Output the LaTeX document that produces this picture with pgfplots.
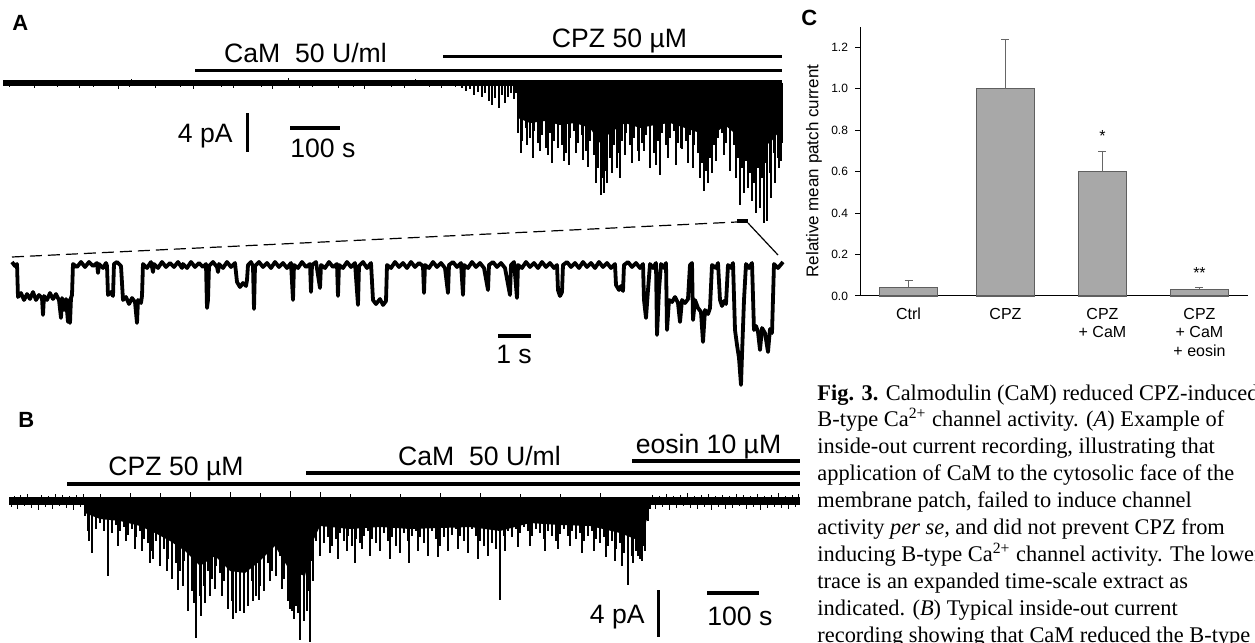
\documentclass[border=0pt]{standalone}
\usepackage{fontspec}
\setmainfont{Liberation Serif}
\newfontfamily\arial{Liberation Sans}
\usepackage{pgfplots}
\pgfplotsset{compat=1.18}
\definecolor{barfill}{RGB}{168,168,168}
\definecolor{bardraw}{RGB}{95,95,95}
\newcommand{\lab}{\arial\fontsize{13.3}{15}\selectfont}
\newcommand{\captfont}{\fontsize{11.2}{13}\selectfont}
\begin{document}
\begin{tikzpicture}
\path[use as bounding box] (0,0) rectangle (627.5pt,321.5pt);

% page frame in pixel units (y downwards): annotations, lower trace of A, captions
\begin{axis}[at={(0pt,0pt)}, anchor=south west, width=627.5pt, height=321.5pt,
  scale only axis, xmin=0, xmax=1255, ymin=0, ymax=643, y dir=reverse,
  hide axis, clip=false]
% solution bars, panel A
\addplot[black, line width=1.6pt] coordinates {(195,70.7) (782,70.7)};
\addplot[black, line width=1.6pt] coordinates {(443,56.7) (782,56.7)};
% scale bars A
\addplot[black, line width=1.5pt] coordinates {(247,113) (247,152)};
\addplot[black, line width=2pt] coordinates {(290,128) (340,128)};
% expansion marker
\addplot[black, line width=0.6pt, dash pattern=on 6pt off 3pt] coordinates {(12,257) (737,222)};
\addplot[black, line width=2pt] coordinates {(737,221) (748,221)};
\addplot[black, line width=0.6pt] coordinates {(748,223) (778,255)};
% expanded extract (lower trace A)
\addplot[black, line width=1.9pt, line join=round] coordinates {
(12,262)(15,266)(17,264)(18,297)(21,293)(24,300)(27,294)(30,299)(33,292)(36,300)(39,295)(42,298)(43,315)(44,296)(47,300)(50,293)(53,299)(56,294)(59,300)(61,318)(62,298)(64,310)(66,299)(68,322)(69,300)(70,323)(71,298)(72,295)(73,264)(77,267)(81,262)(85,267)(89,262)(93,266)(97,263)(98,273)(99,264)(103,268)(106,263)(107,266)(108,295)(111,292)(113,296)(114,264)(117,262)(121,266)(123,300)(126,297)(129,304)(132,298)(135,302)(137,323)(138,300)(141,303)(142,296)(143,264)(147,268)(151,262)(153,272)(154,264)(158,268)(162,262)(166,267)(170,263)(174,267)(178,262)(182,268)(183,264)(187,268)(191,262)(195,267)(199,263)(203,267)(206,264)(207,308)(208,300)(209,266)(213,262)(217,267)(218,272)(219,264)(223,268)(227,262)(231,267)(235,263)(237,282)(240,287)(243,283)(246,286)(247,280)(248,265)(251,262)(253,266)(254,309)(255,266)(259,262)(263,267)(267,263)(271,268)(275,262)(279,267)(283,263)(287,268)(291,263)(293,300)(294,265)(298,268)(302,262)(306,267)(310,264)(311,292)(312,265)(316,262)(320,288)(321,265)(325,268)(329,262)(333,267)(337,264)(338,296)(339,265)(343,268)(347,262)(351,267)(355,263)(358,305)(359,266)(363,262)(367,268)(371,263)(373,300)(376,304)(380,299)(383,305)(386,301)(387,265)(391,268)(395,262)(399,267)(403,263)(407,268)(411,262)(415,267)(419,263)(423,266)(424,293)(425,265)(429,268)(433,262)(437,267)(441,263)(445,268)(448,293)(449,265)(453,262)(457,267)(461,263)(463,295)(464,265)(468,268)(472,262)(476,267)(480,263)(484,268)(488,290)(489,265)(493,262)(497,267)(501,263)(505,268)(510,295)(511,265)(514,262)(517,298)(518,265)(522,268)(526,262)(530,267)(534,263)(538,268)(542,262)(546,267)(550,263)(554,268)(557,265)(558,290)(560,296)(562,292)(563,265)(567,262)(571,267)(575,263)(579,268)(583,262)(587,267)(591,263)(595,268)(599,262)(603,267)(607,263)(611,268)(615,264)(616,285)(619,290)(621,286)(623,291)(624,265)(628,262)(632,267)(636,263)(640,268)(643,264)(644,300)(646,318)(648,290)(650,264)(653,268)(656,263)(657,335)(659,290)(661,264)(664,268)(666,263)(667,330)(669,300)(672,302)(675,297)(678,303)(680,322)(682,300)(685,303)(688,299)(690,265)(692,263)(693,320)(695,300)(698,308)(701,312)(703,342)(705,310)(708,314)(710,308)(712,265)(716,268)(718,263)(720,300)(722,306)(724,301)(726,304)(728,265)(731,268)(733,263)(735,330)(737,345)(739,358)(741,385)(742,355)(744,300)(746,264)(749,268)(752,263)(754,330)(756,326)(758,332)(760,350)(762,328)(765,333)(768,352)(770,329)(772,333)(774,264)(778,268)(783,262)};
\addplot[black, line width=2pt] coordinates {(498,336) (531,336)};
% solution bars, panel B
\addplot[black, line width=1.6pt] coordinates {(67,484) (800,484)};
\addplot[black, line width=1.6pt] coordinates {(306,473) (800,473)};
\addplot[black, line width=1.6pt] coordinates {(632,461) (800,461)};
% scale bars B
\addplot[black, line width=1.5pt] coordinates {(658,590) (658,637)};
\addplot[black, line width=2pt] coordinates {(707,593) (759,593)};

% labels
\node[anchor=base west, inner sep=0pt, font=\arial\bfseries\fontsize{11}{13}\selectfont] at (axis cs:12,30) {A};
\node[anchor=base west, inner sep=0pt, font=\arial\bfseries\fontsize{11}{13}\selectfont] at (axis cs:18,427) {B};
\node[anchor=base west, inner sep=0pt, font=\arial\bfseries\fontsize{11}{13}\selectfont] at (axis cs:801,25) {C};
\node[anchor=base, inner sep=0pt, font=\lab] at (axis cs:305.5,62) {CaM\ \ 50 U/ml};
\node[anchor=base, inner sep=0pt, font=\lab] at (axis cs:619.5,47) {CPZ 50 µM};
\node[anchor=base east, inner sep=0pt, font=\lab] at (axis cs:233,142) {4 pA};
\node[anchor=base west, inner sep=0pt, font=\lab] at (axis cs:290,157) {100 s};
\node[anchor=base, inner sep=0pt, font=\lab] at (axis cs:514,363) {1 s};
\node[anchor=base, inner sep=0pt, font=\lab] at (axis cs:176,475) {CPZ 50 µM};
\node[anchor=base, inner sep=0pt, font=\lab] at (axis cs:479.5,465) {CaM\ \ 50 U/ml};
\node[anchor=base, inner sep=0pt, font=\lab] at (axis cs:708.5,453) {eosin 10 µM};
\node[anchor=base east, inner sep=0pt, font=\lab] at (axis cs:645,623) {4 pA};
\node[anchor=base west, inner sep=0pt, font=\lab] at (axis cs:707,625) {100 s};

% figure caption
\node[anchor=base west, inner sep=0pt, font=\captfont] at (axis cs:817,400.0) {\textbf{Fig. 3.} Calmodulin (CaM) reduced CPZ-induced};
\node[anchor=base west, inner sep=0pt, font=\captfont] at (axis cs:817,426.9) {B-type Ca\textsuperscript{2+} channel activity. (\textit{A}) Example of};
\node[anchor=base west, inner sep=0pt, font=\captfont] at (axis cs:817,453.8) {inside-out current recording, illustrating that};
\node[anchor=base west, inner sep=0pt, font=\captfont] at (axis cs:817,480.7) {application of CaM to the cytosolic face of the};
\node[anchor=base west, inner sep=0pt, font=\captfont] at (axis cs:817,507.6) {membrane patch, failed to induce channel};
\node[anchor=base west, inner sep=0pt, font=\captfont] at (axis cs:817,534.5) {activity \textit{per se,} and did not prevent CPZ from};
\node[anchor=base west, inner sep=0pt, font=\captfont] at (axis cs:817,561.4) {inducing B-type Ca\textsuperscript{2+} channel activity. The lower};
\node[anchor=base west, inner sep=0pt, font=\captfont] at (axis cs:817,588.3) {trace is an expanded time-scale extract as};
\node[anchor=base west, inner sep=0pt, font=\captfont] at (axis cs:817,615.2) {indicated. (\textit{B}) Typical inside-out current};
\node[anchor=base west, inner sep=0pt, font=\captfont] at (axis cs:817,642.1) {recording showing that CaM reduced the B-type};
\end{axis}

% upper trace A: x in px, y = deflection in px from the closed level
\begin{axis}[at={(0pt,200pt)}, anchor=south west, width=627.5pt, height=85pt,
  scale only axis, xmin=0, xmax=1255, ymin=-160, ymax=10, hide axis, clip=false]
\addplot[black, line width=3pt] coordinates {(3,0) (782,0)};
% baseline noise
\addplot[ycomb, black, line width=0.45pt] coordinates {
(9,-4)(21,-3)(34,-5)(44,-3)(57,-4)(66,-3)(79,-5)(93,-4)(104,-3)(118,-6)(129,-4)(141,-3)(155,-5)(168,-3)(180,-4)(193,-6)(207,-3)(221,-4)(233,-5)(248,-3)(261,-4)(272,-6)(287,-3)(299,-5)(312,-4)(326,-3)(338,-5)(353,-4)(364,-6)(377,-3)(391,-4)(404,-5)(416,-3)(429,-4)(441,-5)(455,-4)
(131,4)(288,5)(415,4)};
% channel openings
\addplot[ycomb, black, line width=0.6pt] coordinates {
(462,-5)(466,-8)(470,-6)(474,-12)(478,-9)(482,-14)(485,-10)(489,-18)(492,-22)(495,-15)(499,-25)(502,-12)(505,-20)(508,-14)(511,-10)(514,-16)(516,-10)
(521,-70)(527,-62)(533,-75)(540,-68)(548,-72)(552,-80)(558,-65)(564,-78)(569,-82)(576,-70)(583,-77)(588,-84)(596,-100)(601,-112)(604,-110)(607,-100)(612,-90)(617,-85)(620,-95)(625,-72)(632,-80)(639,-78)(644,-68)(650,-85)(656,-82)(660,-92)(668,-75)(676,-82)(681,-65)(688,-80)(693,-85)(700,-95)(704,-108)(708,-100)(712,-90)(716,-78)(724,-72)(730,-88)(736,-95)(740,-122)(744,-110)(748,-105)(752,-118)(756,-130)(760,-125)(764,-140)(767,-138)(771,-115)(775,-100)(779,-85)(781,-78)};
\addplot[ycomb, black, line width=1.3pt] coordinates {
(518,-50)(522,-58)(526,-45)(530,-55)(534,-48)(538,-60)(542,-52)(546,-65)(550,-50)(554,-58)(558,-45)(562,-62)(566,-70)(570,-55)(574,-48)(578,-60)(582,-52)(586,-68)(590,-58)(594,-72)(598,-85)(602,-95)(606,-88)(610,-75)(614,-62)(618,-70)(622,-58)(626,-50)(630,-62)(634,-55)(638,-68)(642,-60)(646,-52)(650,-65)(654,-70)(658,-58)(662,-50)(666,-62)(670,-55)(674,-48)(678,-60)(682,-66)(686,-58)(690,-52)(694,-62)(698,-70)(702,-80)(706,-88)(710,-75)(714,-62)(718,-55)(722,-50)(726,-60)(730,-70)(734,-62)(738,-75)(742,-85)(746,-78)(750,-90)(754,-100)(758,-85)(762,-95)(766,-80)(770,-90)(774,-70)(778,-75)(782,-60)};
\addplot[fill=black, draw=none] coordinates {
(518,0)(518,-35)(530,-40)(545,-38)(560,-42)(575,-40)(590,-45)(600,-60)(610,-50)(625,-40)(640,-45)(655,-42)(670,-40)(685,-45)(700,-50)(710,-55)(725,-42)(740,-55)(755,-65)(770,-60)(782,-45)(782,0)};
\end{axis}

% trace B
\begin{axis}[at={(0pt,-4pt)}, anchor=south west, width=627.5pt, height=80pt,
  scale only axis, xmin=0, xmax=1255, ymin=-150, ymax=10, hide axis, clip=false]
\addplot[black, line width=4pt] coordinates {(9,0) (800,0)};
% baseline noise
\addplot[ycomb, black, line width=0.4pt] coordinates {
(11,-6)(14,5)(17,-8)(20,6)(24,-5)(27,7)(31,-7)(34,4)(38,-9)(41,6)(45,-6)(48,5)(52,-8)(55,7)(59,-5)(62,6)(66,-7)(69,5)(73,-9)(76,6)(80,-6)(83,7)
(652,6)(655,-8)(659,5)(662,-6)(666,7)(669,-9)(673,5)(676,-7)(680,6)(683,-5)(687,8)(690,-7)(694,5)(697,-8)(701,6)(704,-6)(708,7)(711,-9)(715,5)(718,-6)(722,6)(725,-8)(729,5)(732,-7)(736,7)(739,-5)(743,6)(746,-8)(750,5)(753,-6)(757,7)(760,-9)(764,5)(767,-7)(771,6)(774,-6)(778,8)(781,-7)(785,5)(788,-8)(792,6)(795,-6)(798,7)
(100,7)(130,8)(160,8)(190,9)(230,9)(260,8)(290,10)(320,9)(350,7)(400,7)(440,8)(480,8)(520,7)(560,7)(600,8)};
% channel openings
\addplot[ycomb, black, line width=0.6pt] coordinates {
(89,-40)(92,-52)(108,-75)(118,-45)(126,-40)(135,-48)(142,-50)(150,-62)(153,-58)(160,-65)(167,-70)(172,-78)(178,-89)(183,-85)(188,-110)(194,-102)(196,-137)(201,-115)(205,-102)(210,-95)(215,-88)(222,-95)(228,-108)(233,-118)(236,-112)(240,-110)(244,-112)(248,-105)(253,-100)(259,-99)(264,-90)(270,-80)(276,-75)(282,-88)(290,-108)(294,-118)(298,-112)(300,-139)(304,-120)(307,-110)(310,-141)(313,-80)(320,-55)(330,-52)(338,-58)(347,-50)(355,-62)(362,-48)(370,-55)(380,-50)(390,-58)(400,-52)(409,-62)(418,-50)(428,-55)(438,-56)(448,-50)(458,-48)(468,-52)(478,-58)(488,-55)(500,-99)(505,-50)(518,-46)(530,-45)(545,-50)(558,-48)(570,-45)(582,-52)(594,-50)(606,-56)(615,-60)(622,-65)(628,-84)(633,-62)(638,-55)(642,-60)(645,-50)};
\addplot[ycomb, black, line width=1.3pt] coordinates {
(85,-15)(88,-30)(92,-20)(96,-28)(100,-22)(104,-30)(108,-25)(112,-32)(116,-24)(120,-30)(124,-26)(128,-34)(132,-28)(136,-36)(140,-30)(144,-38)(148,-42)(152,-50)(156,-40)(160,-55)(164,-48)(168,-58)(172,-52)(176,-62)(180,-70)(184,-60)(188,-80)(192,-90)(196,-75)(200,-95)(204,-85)(208,-70)(212,-78)(216,-65)(220,-72)(224,-80)(228,-95)(232,-100)(236,-105)(240,-98)(244,-108)(248,-90)(252,-80)(256,-95)(260,-85)(264,-75)(268,-62)(272,-70)(276,-60)(280,-55)(284,-78)(288,-100)(292,-110)(296,-105)(300,-112)(304,-100)(308,-90)(312,-60)(316,-40)(320,-35)(324,-42)(328,-36)(332,-45)(336,-38)(340,-32)(344,-40)(348,-35)(352,-45)(356,-38)(360,-42)(364,-35)(368,-30)(372,-38)(376,-42)(380,-35)(384,-32)(388,-40)(392,-36)(396,-45)(400,-38)(404,-32)(408,-40)(412,-35)(416,-30)(420,-36)(424,-42)(428,-35)(432,-30)(436,-38)(440,-45)(444,-36)(448,-30)(452,-34)(456,-28)(460,-35)(464,-40)(468,-32)(472,-28)(476,-35)(480,-40)(484,-45)(488,-38)(492,-42)(496,-48)(500,-40)(504,-35)(508,-30)(512,-36)(516,-28)(520,-32)(524,-26)(528,-30)(532,-35)(536,-28)(540,-32)(544,-38)(548,-30)(552,-35)(556,-40)(560,-33)(564,-28)(568,-35)(572,-30)(576,-38)(580,-32)(584,-40)(588,-35)(592,-30)(596,-38)(600,-42)(604,-36)(608,-45)(612,-40)(616,-48)(620,-42)(624,-52)(628,-48)(632,-55)(636,-50)(640,-58)(644,-45)(648,-20)(650,-8)};
\addplot[fill=black, draw=none] coordinates {
(85,0)(85,-12)(100,-18)(120,-20)(140,-25)(155,-32)(170,-40)(185,-50)(200,-65)(215,-55)(230,-70)(245,-72)(260,-60)(275,-45)(290,-70)(305,-75)(313,-40)(320,-25)(350,-28)(380,-26)(410,-28)(440,-27)(470,-26)(500,-30)(530,-22)(560,-24)(590,-25)(620,-32)(640,-40)(648,-15)(650,0)};
\end{axis}

% panel C: bar chart
\begin{axis}[at={(430pt,173.5pt)}, anchor=south west, width=194pt, height=134.65pt,
  scale only axis, xmin=-0.5, xmax=3.5, ymin=0, ymax=1.3, clip=false,
  axis x line=bottom, axis y line=left, axis line style={-, black, line width=0.5pt},
  xtick={0,1,2,3},
  xticklabels={Ctrl, CPZ, {CPZ\\+ CaM}, {CPZ\\+ CaM\\+ eosin}},
  xticklabel style={align=center, font=\arial\fontsize{8}{9.2}\selectfont},
  xtick style={draw=none},
  ytick={0,0.2,0.4,0.6,0.8,1.0,1.2},
  /pgf/number format/assume math mode=true,
  yticklabel style={/pgf/number format/.cd, fixed, fixed zerofill, precision=1, /tikz/.cd,
    font=\arial\fontsize{6}{7}\selectfont},
  ytick style={black, line width=0.5pt}, tick align=outside, major tick length=2.5pt,
  ylabel={Relative mean patch current},
  ylabel style={at={(axis description cs:-0.1186,0.464)}, anchor=center,
    font=\arial\fontsize{8.5}{10}\selectfont},
]
\addplot[ybar, bar shift=0pt, bar width=0.6, fill=barfill, draw=bardraw, line width=0.6pt,
  error bars/.cd, y dir=plus, y explicit, error bar style={black!60, line width=0.5pt}]
  coordinates {(0,0.042) +- (0,0.034) (1,1.0) +- (0,0.24) (3,0.032) +- (0,0.010)};
\addplot[ybar, bar shift=0pt, bar width=0.5, fill=barfill, draw=bardraw, line width=0.6pt,
  error bars/.cd, y dir=plus, y explicit, error bar style={black!60, line width=0.5pt}]
  coordinates {(2,0.60) +- (0,0.10)};
\node[font=\arial\fontsize{8}{9}\selectfont, inner sep=0pt] at (axis cs:2,0.77) {*};
\node[font=\arial\fontsize{8}{9}\selectfont, inner sep=0pt] at (axis cs:3,0.11) {**};
\end{axis}
\end{tikzpicture}
\end{document}
